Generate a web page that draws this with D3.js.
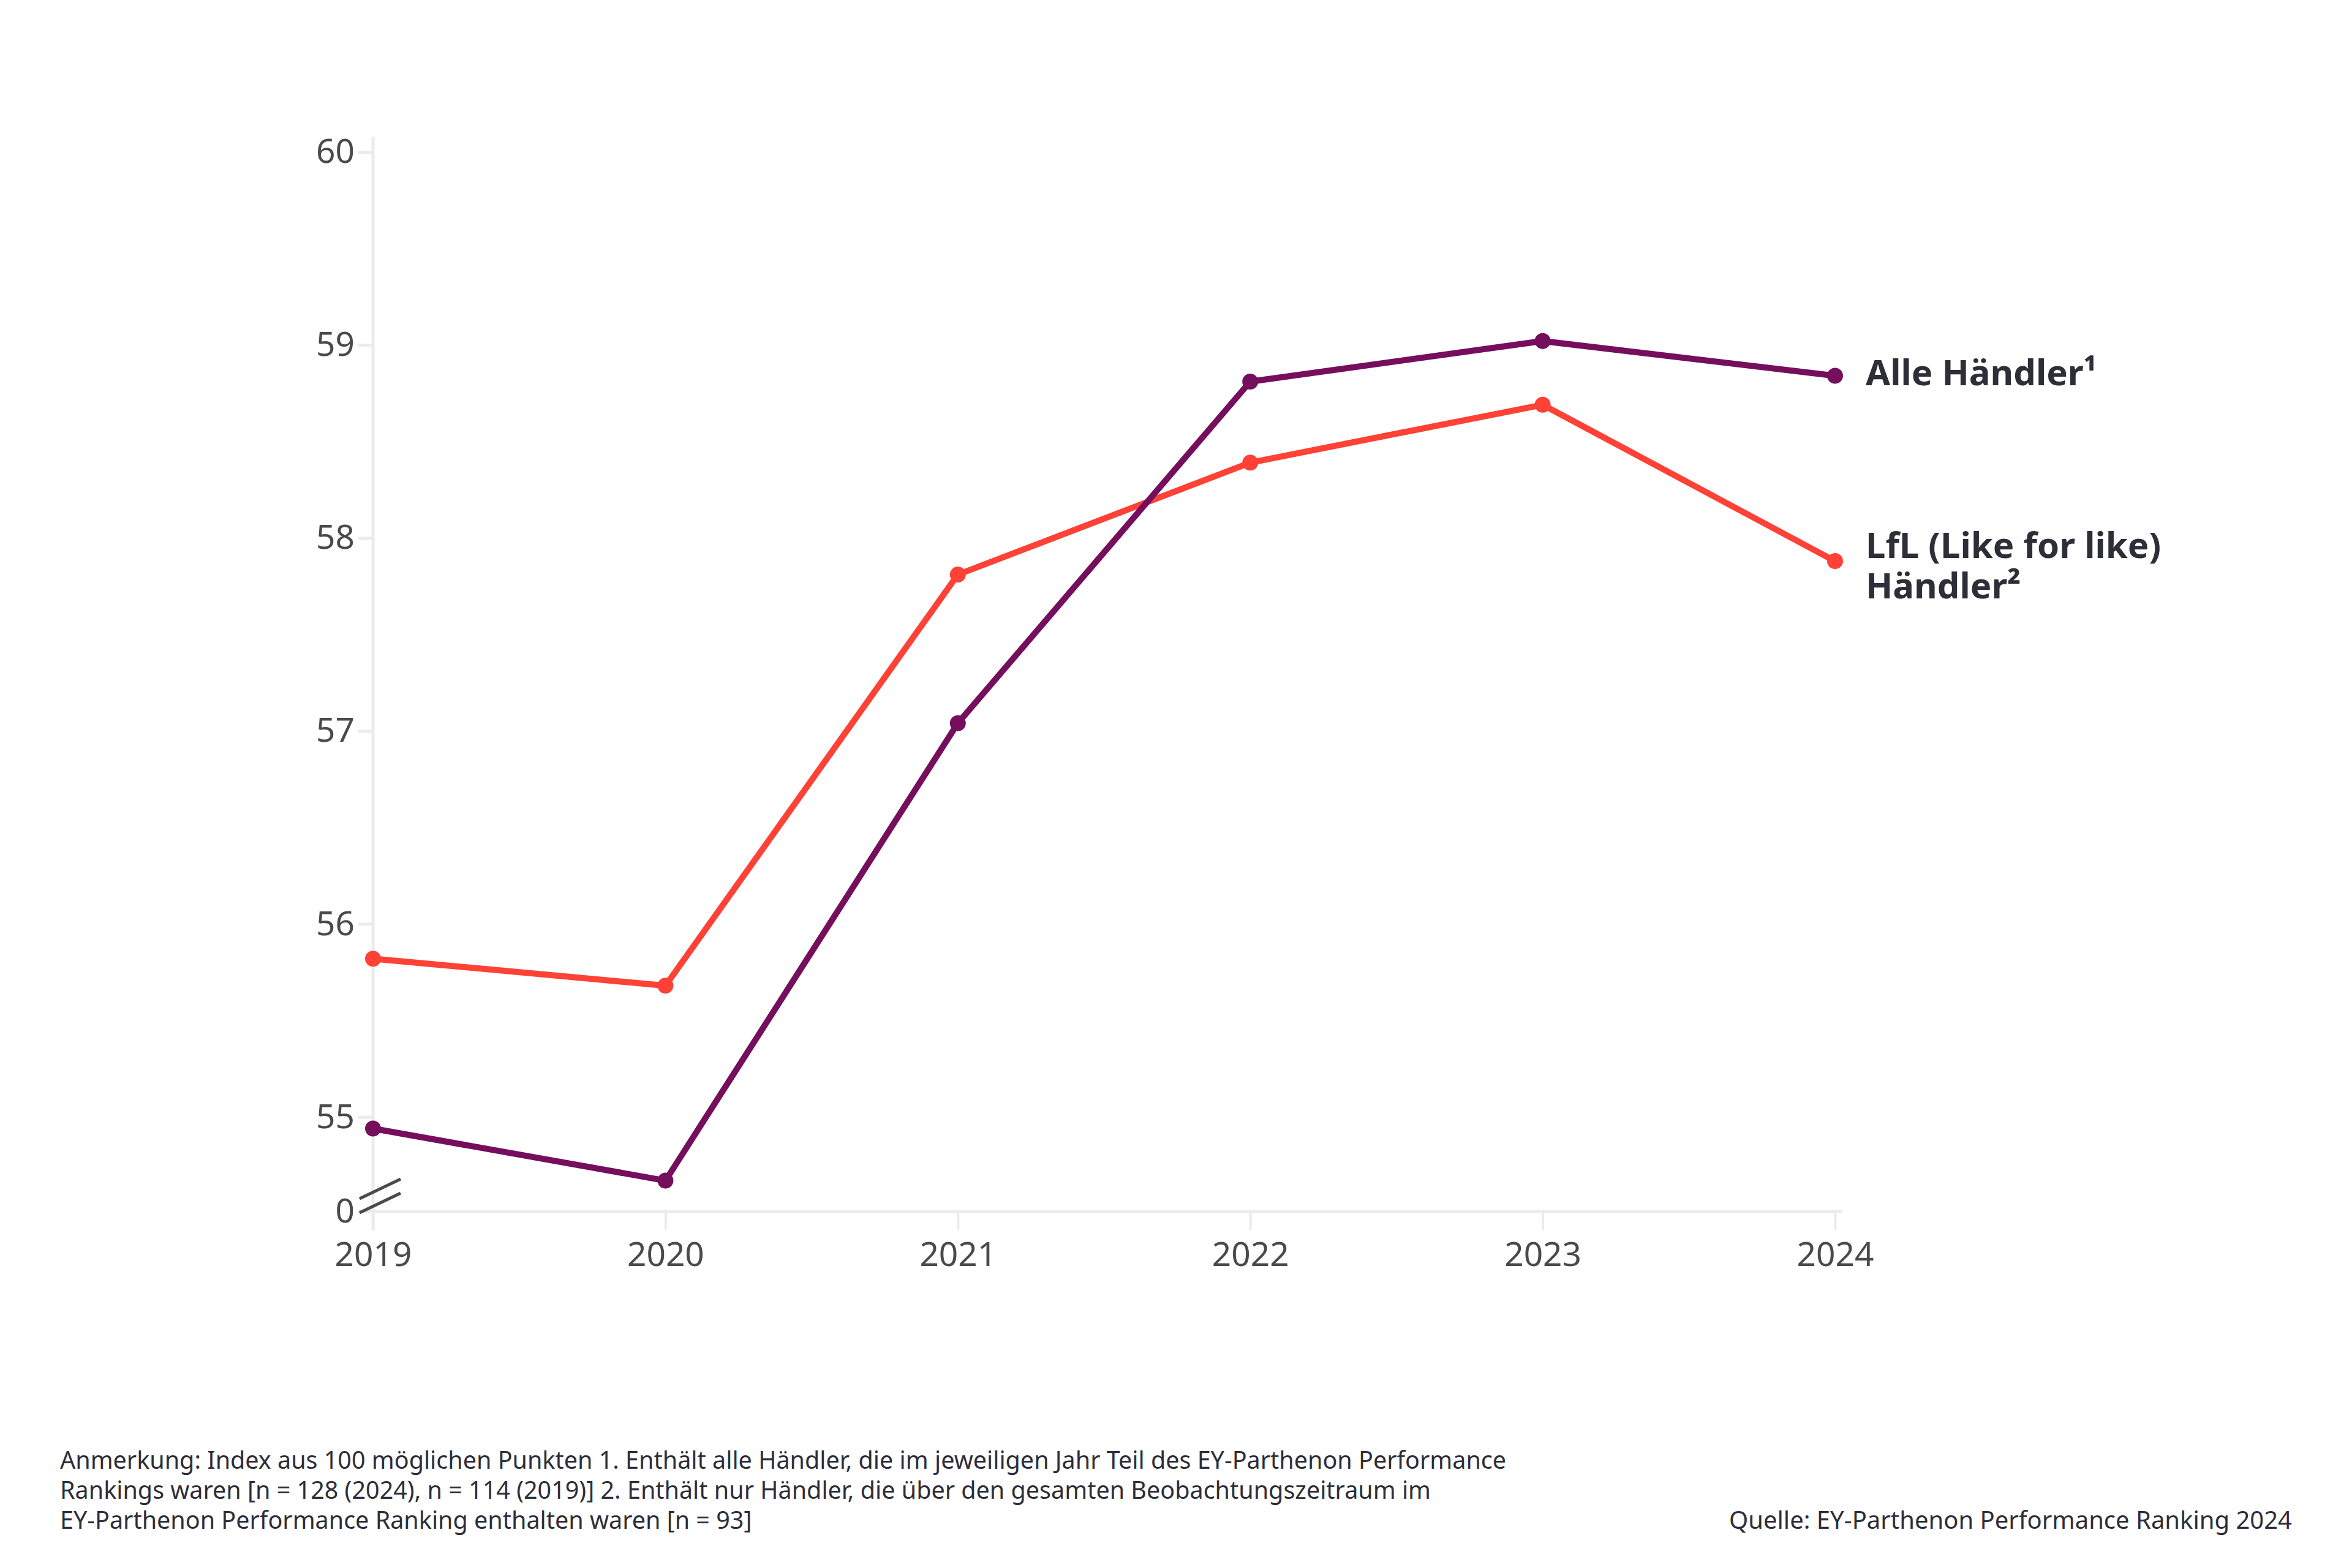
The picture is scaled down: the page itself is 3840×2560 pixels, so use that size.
<!DOCTYPE html>
<html>
<head>
<meta charset="utf-8">
<script src="https://cdn.jsdelivr.net/npm/d3@7"></script>
<style>
  body { margin: 0; background: #fff; }
  svg { display: block; }
</style>
</head>
<body>
<div id="chart-area"></div>
<script>
var years = ['2019', '2020', '2021', '2022', '2023', '2024'];
var alleHaendler = [54.94, 54.67, 57.04, 58.81, 59.02, 58.84];
var lflHaendler = [55.82, 55.68, 57.81, 58.39, 58.69, 57.88];
var yTicks = [55, 56, 57, 58, 59, 60];
var yBreak = 54.51;   // bottom of the broken axis, labelled "0"

var W = 3840, H = 2560;
var margin = { left: 609, right: 844, top: 248, bottom: 582 };
var width = W - margin.left - margin.right;
var height = H - margin.top - margin.bottom;

var svg = d3.select('#chart-area').append('svg')
    .attr('width', W)
    .attr('height', H);

var g = svg.append('g')
    .attr('transform', 'translate(' + margin.left + ',' + margin.top + ')');

var x = d3.scalePoint()
    .domain(years)
    .range([0, width]);

var y = d3.scaleLinear()
    .domain([yBreak, 60])
    .range([height, 0]);

var axisColor = '#ebebeb';
var tickText = '#4a4a4a';

// X axis
var xAxisGroup = g.append('g')
    .attr('transform', 'translate(0,' + height + ')')
    .call(d3.axisBottom(x).tickSize(30).tickPadding(20));
xAxisGroup.select('.domain').remove();
xAxisGroup.insert('line', ':first-child')
    .attr('x1', -8).attr('x2', width + 12)
    .attr('stroke', axisColor).attr('stroke-width', 5);
xAxisGroup.selectAll('.tick line').attr('stroke', axisColor).attr('stroke-width', 4);
xAxisGroup.selectAll('.tick text')
    .attr('fill', tickText)
    .style('font-family', '"Noto Sans", sans-serif')
    .style('font-size', '55px');

// Y axis
var yAxisGroup = g.append('g')
    .call(d3.axisLeft(y)
        .tickValues([yBreak].concat(yTicks))
        .tickSize(24)
        .tickPadding(6)
        .tickFormat(d => { return d === yBreak ? '0' : d; }));
yAxisGroup.select('.domain').remove();
yAxisGroup.insert('line', ':first-child')
    .attr('y1', -25).attr('y2', height + 30)
    .attr('stroke', axisColor).attr('stroke-width', 5);
yAxisGroup.selectAll('.tick line').attr('stroke', axisColor).attr('stroke-width', 5);
yAxisGroup.selectAll('.tick text')
    .attr('fill', tickText)
    .style('font-family', '"Noto Sans", sans-serif')
    .style('font-size', '55px');

// Break marks
var brk = g.append('g').attr('transform', 'translate(0,' + height + ')');
[0, -23].forEach(off => {
    brk.append('line')
        .attr('x1', -22).attr('y1', off + 2)
        .attr('x2', 45).attr('y2', off - 30)
        .attr('stroke', '#4a4a4a').attr('stroke-width', 5);
});

var series = [
    { name: 'lfl', values: lflHaendler, color: '#ff4136' },
    { name: 'alle', values: alleHaendler, color: '#750e5c' }
];

var line = d3.line()
    .x((d, i) => { return x(years[i]); })
    .y(d => { return y(d); });

series.forEach(s => {
    g.append('path')
        .datum(s.values)
        .attr('fill', 'none')
        .attr('stroke', s.color)
        .attr('stroke-width', 10)
        .attr('stroke-linejoin', 'round')
        .attr('d', line);

    g.selectAll('.dot-' + s.name)
        .data(s.values)
        .enter().append('circle')
        .attr('class', 'dot-' + s.name)
        .attr('cx', (d, i) => { return x(years[i]); })
        .attr('cy', d => { return y(d); })
        .attr('r', 13)
        .attr('fill', s.color);
});

// Series labels
var labelX = width + 50;
var labelStyle = function (t) {
    t.attr('fill', '#2e2e38')
        .style('font-family', '"Noto Sans", sans-serif')
        .style('font-weight', 700)
        .style('font-size', '58px');
};

g.append('text')
    .attr('x', labelX)
    .attr('y', y(alleHaendler[5]) + 15)
    .call(labelStyle)
    .text('Alle Händler¹');

var lflLabel = g.append('text')
    .attr('x', labelX)
    .attr('y', y(lflHaendler[5]) - 5)
    .call(labelStyle);
lflLabel.append('tspan').attr('x', labelX).text('LfL (Like for like)');
lflLabel.append('tspan').attr('x', labelX).attr('dy', 66).text('Händler²');

// Footnotes
var notes = [
    'Anmerkung: Index aus 100 möglichen Punkten 1. Enthält alle Händler, die im jeweiligen Jahr Teil des EY-Parthenon Performance',
    'Rankings waren [n = 128 (2024), n = 114 (2019)] 2. Enthält nur Händler, die über den gesamten Beobachtungszeitraum im',
    'EY-Parthenon Performance Ranking enthalten waren [n = 93]'
];

svg.append('g').selectAll('text')
    .data(notes)
    .enter().append('text')
    .attr('x', 98)
    .attr('y', (d, i) => { return 2398 + i * 49; })
    .attr('fill', '#2e2e38')
    .style('font-family', '"Noto Sans", sans-serif')
    .style('font-size', '39.5px')
    .text(d => { return d; });

svg.append('text')
    .attr('x', 3742)
    .attr('y', 2496)
    .attr('text-anchor', 'end')
    .attr('fill', '#2e2e38')
    .style('font-family', '"Noto Sans", sans-serif')
    .style('font-size', '40px')
    .text('Quelle: EY-Parthenon Performance Ranking 2024');
</script>
</body>
</html>
